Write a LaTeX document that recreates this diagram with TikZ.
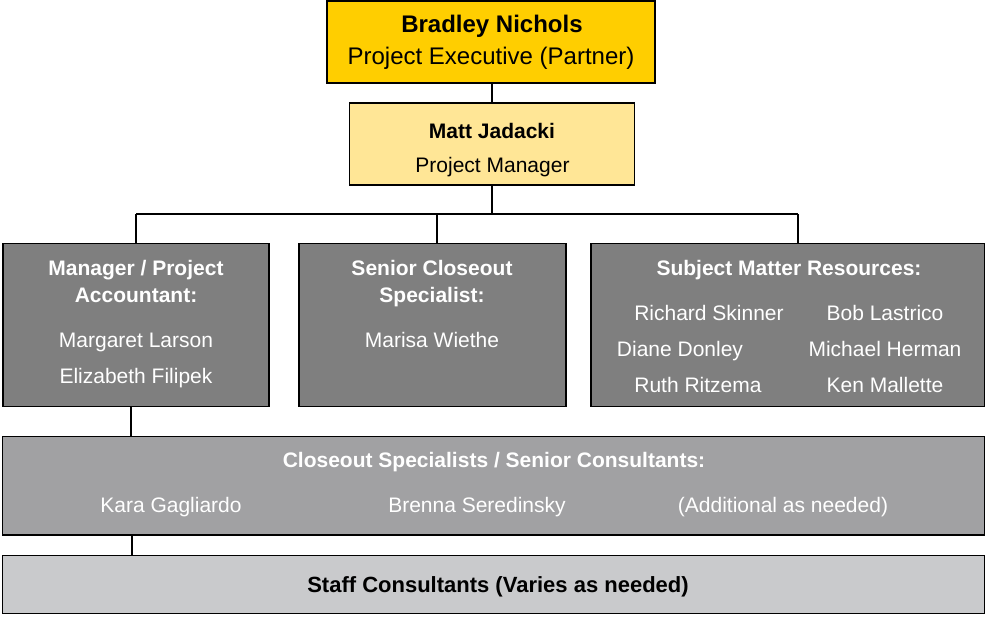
\documentclass[tikz,border=0pt]{standalone}
\usepackage{fontspec}
\setmainfont{Liberation Sans}
\usetikzlibrary{positioning}
\definecolor{gold}{RGB}{255,206,0}
\definecolor{paleyellow}{RGB}{255,230,150}
\definecolor{darkgrey}{RGB}{127,127,127}
\definecolor{midgrey}{RGB}{161,161,163}
\definecolor{lightgrey}{RGB}{201,202,204}
\begin{document}
\begin{tikzpicture}[x=1pt,y=-1pt,font=\fontsize{21}{25}\selectfont]
  \tikzstyle{box}=[rectangle,draw=black,line width=1.8pt,inner sep=0pt]
  \tikzstyle{txt}=[anchor=base,inner sep=0pt]
  \tikzstyle{head}=[txt,font=\fontsize{21}{25}\selectfont\bfseries]
  \tikzstyle{link}=[line width=1.8pt]
  \useasboundingbox (0,0) rectangle (985,616);

\node[box,fill=gold,minimum width=328pt,minimum height=82pt] (X) at (491,42) {};
  \node[box,fill=paleyellow,minimum width=285pt,minimum height=82pt] (P) at (492,144) {};
  \node[box,fill=darkgrey,minimum width=266pt,minimum height=163pt] (A) at (136,325) {};
  \node[box,fill=darkgrey,minimum width=267pt,minimum height=163pt] (S) at (432.5,325) {};
  \node[box,fill=darkgrey,minimum width=393.5pt,minimum height=163pt] (R) at (787.75,325) {};
  \node[box,fill=midgrey,minimum width=982pt,minimum height=98.5pt] (C) at (493.5,485.75) {};
  \node[box,fill=lightgrey,minimum width=982pt,minimum height=58pt] (T) at (493.5,584.5) {};

\node[txt,font=\fontsize{24}{28}\selectfont\bfseries] (x1) at (492,32) {Bradley Nichols};
  \node[txt,font=\fontsize{24}{28}\selectfont] (x2) at (491,64) {Project Executive (Partner)};
  \node[head] (p1) at (492,138) {Matt Jadacki};
  \node[txt] (p2) at (492.5,172) {Project Manager};

\begin{scope}[every node/.append style={text=white}]
  \node[head] (a1) at (136,275) {Manager / Project};
  \node[head] (a2) at (136,302) {Accountant:};
  \node[txt] (a3) at (136,347) {Margaret Larson};
  \node[txt] (a4) at (136,383) {Elizabeth Filipek};
  \node[head] (s1) at (432,275) {Senior Closeout};
  \node[head] (s2) at (432,302) {Specialist:};
  \node[txt] (s3) at (432,347) {Marisa Wiethe};
  \node[head] (r0) at (789,275) {Subject Matter Resources:};
  \node[txt] (r1) at (709,320) {Richard Skinner};
  \node[txt] (r2) at (885,320) {Bob Lastrico};
  \node[txt] (r3) at (680,356) {Diane Donley};
  \node[txt] (r4) at (885,356) {Michael Herman};
  \node[txt] (r5) at (698,392) {Ruth Ritzema};
  \node[txt] (r6) at (885,392) {Ken Mallette};
  \node[head] (c0) at (494,467) {Closeout Specialists / Senior Consultants:};
  \node[txt] (c1) at (171,512) {Kara Gagliardo};
  \node[txt] (c2) at (477,512) {Brenna Seredinsky};
  \node[txt] (c3) at (783,512) {(Additional as needed)};
\end{scope}
  \node[head,font=\fontsize{22}{26}\selectfont\bfseries] (t0) at (498,592) {Staff Consultants (Varies as needed)};

\coordinate (busL) at (136,214);
  \coordinate (busR) at (798,214);
  \draw[link] (X.south -| P.north) -- (P.north);
  \draw[link] (P.south) -- (P.south |- busL);
  \draw[link] (busL) -- (busR);
  \draw[link] (A.north) -- (busL);
  \draw[link] ([xshift=4.5pt]S.north) -- ([xshift=4.5pt]S.north |- busL);
  \draw[link] (busR) -- (busR |- R.north);
  \draw[link] ([xshift=-5pt]A.south) -- ([xshift=-5pt]A.south |- C.north);
  \draw[link] ([xshift=-4pt]A.south |- C.south) -- ([xshift=-4pt]A.south |- T.north);
\end{tikzpicture}
\end{document}
